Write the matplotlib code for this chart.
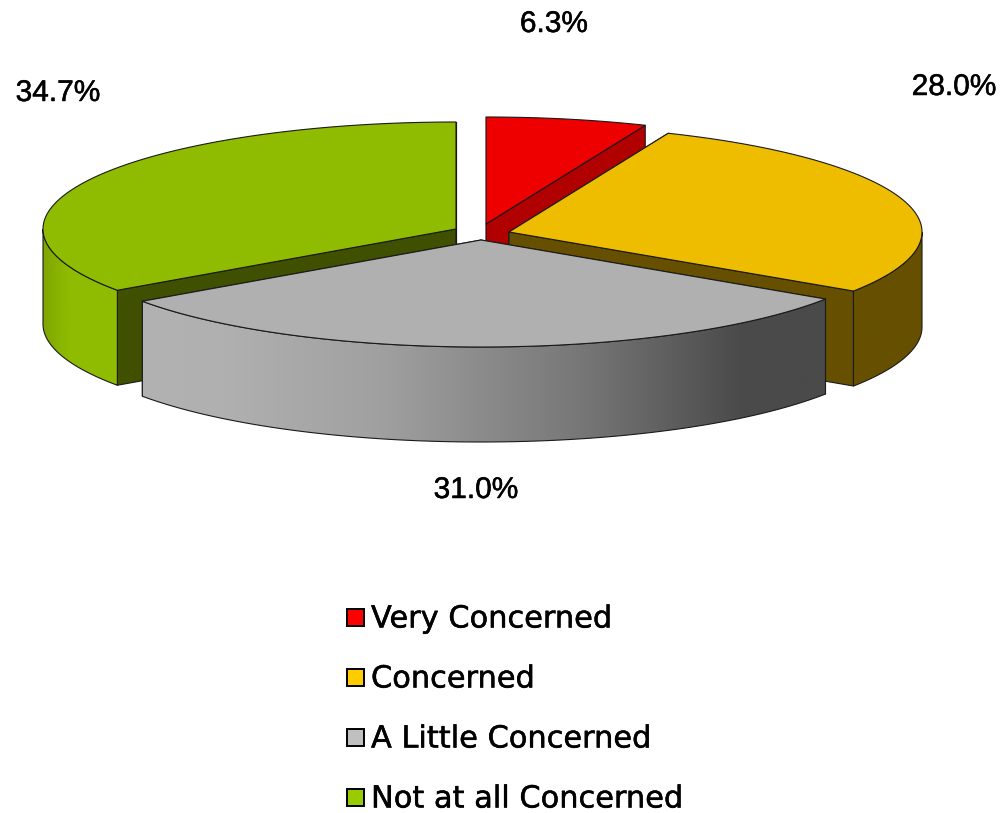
import numpy as np
import matplotlib
matplotlib.use("Agg")
import matplotlib.pyplot as plt
import matplotlib.patheffects as pe
from matplotlib.patches import Polygon, Rectangle

categories = ["Very Concerned", "Concerned", "A Little Concerned", "Not at all Concerned"]
values = [6.3, 28.0, 31.0, 34.7]
value_labels = ["6.3%", "28.0%", "31.0%", "34.7%"]

top_colors = ["#EE0000", "#EEBD00", "#B0B0B0", "#8FBC00"]
side_colors = ["#B00000", "#665000", "#4A4A4A", "#3F5000"]
legend_colors = ["#FF0000", "#FFCC00", "#C0C0C0", "#99CC00"]

# layout in pixels
W, H = 1001, 813
RX, RY, DEPTH = 413, 107, 95
centers = [(486, 224), (509, 232), (481, 240), (456, 229)]
label_pos = [(554, 24), (954, 87), (476, 490), (58, 93)]
legend_box_x, legend_text_x = 347, 371
legend_y = [617, 677, 737, 797]
FS = 21.5
LEGEND_FS = 21.9

plt.rcParams["font.family"] = ["Liberation Sans", "DejaVu Sans"]
fig = plt.figure(figsize=(W / 100, H / 100), dpi=100)
ax = fig.add_axes([0, 0, 1, 1])
ax.axis("off")

edges = np.concatenate([[0], np.cumsum(values)]) / 100 * 2 * np.pi


def rim(c, a, b, n=160):
    t = np.linspace(a, b, n)
    return np.column_stack([c[0] + RX * np.sin(t), c[1] - RY * np.cos(t)])


def poly(pts, color, z, lw=0.8, ec="#1a1a1a"):
    ax.add_patch(Polygon(pts, closed=True, facecolor=color, edgecolor=ec, linewidth=lw,
                         joinstyle="round", zorder=z))


def wall(pts, stops, z):
    """Outer wall, shaded left to right by a gradient clipped to its outline."""
    patch = Polygon(pts, closed=True, facecolor="none", edgecolor="none", zorder=z)
    ax.add_patch(patch)
    x0, x1 = pts[:, 0].min(), pts[:, 0].max()
    y0, y1 = pts[:, 1].min(), pts[:, 1].max()
    xs = np.linspace(0, 1, 256)
    pos = [s[0] for s in stops]
    rgb = np.array([matplotlib.colors.to_rgb(s[1]) for s in stops])
    grad = np.column_stack([np.interp(xs, pos, rgb[:, i]) for i in range(3)])[None, :, :]
    im = ax.imshow(grad, extent=(x0, x1, y1, y0), aspect="auto", zorder=z, interpolation="bilinear")
    im.set_clip_path(patch)
    ax.add_patch(Polygon(pts, closed=True, facecolor="none", edgecolor="#1a1a1a", linewidth=0.8, zorder=z + 0.1))


wall_stops = [
    [(0, side_colors[0]), (1, side_colors[0])],
    [(0, side_colors[1]), (1, side_colors[1])],
    [(0, "#B2B2B2"), (0.12, "#B0B0B0"), (0.35, "#A0A0A0"), (0.65, "#767676"), (0.88, "#4A4A4A"), (1, "#4A4A4A")],
    [(0, "#7FA600"), (0.35, "#8FBC00"), (1, "#8FBC00")],
]
down = np.array([0, DEPTH])

# drawing order back to front: red, green, yellow, gray
for z, i in zip([1, 2, 3, 4], [0, 3, 1, 2]):
    c = np.array(centers[i], float)
    a, b = edges[i], edges[i + 1]
    arc = rim(c, a, b)
    for edge_pt in (arc[0], arc[-1]):
        poly(np.array([c, edge_pt, edge_pt + down, c + down]), side_colors[i], z)
    fa, fb = max(a, np.pi / 2), min(b, 3 * np.pi / 2)
    if fb > fa:
        front = rim(c, fa, fb)
        wall(np.vstack([front, (front + down)[::-1]]), wall_stops[i], z)
    poly(np.vstack([c, arc]), top_colors[i], z + 0.2)

ax.set_xlim(0, W)
ax.set_ylim(H, 0)

heavy = [pe.withStroke(linewidth=0.35, foreground="black")]
for (x, y), s in zip(label_pos, value_labels):
    ax.text(x, y, s, ha="center", va="center", fontsize=FS, color="black", zorder=10, path_effects=heavy)

for y, name, col in zip(legend_y, categories, legend_colors):
    ax.add_patch(Rectangle((legend_box_x, y - 8), 17, 17, facecolor=col, edgecolor="black", linewidth=1.4, zorder=10))
    ax.text(legend_text_x, y - 1, name, ha="left", va="center_baseline", fontsize=LEGEND_FS, color="black",
            family=["DejaVu Sans"], zorder=10, path_effects=heavy)

fig.savefig("out.png", dpi=100, facecolor="white")
